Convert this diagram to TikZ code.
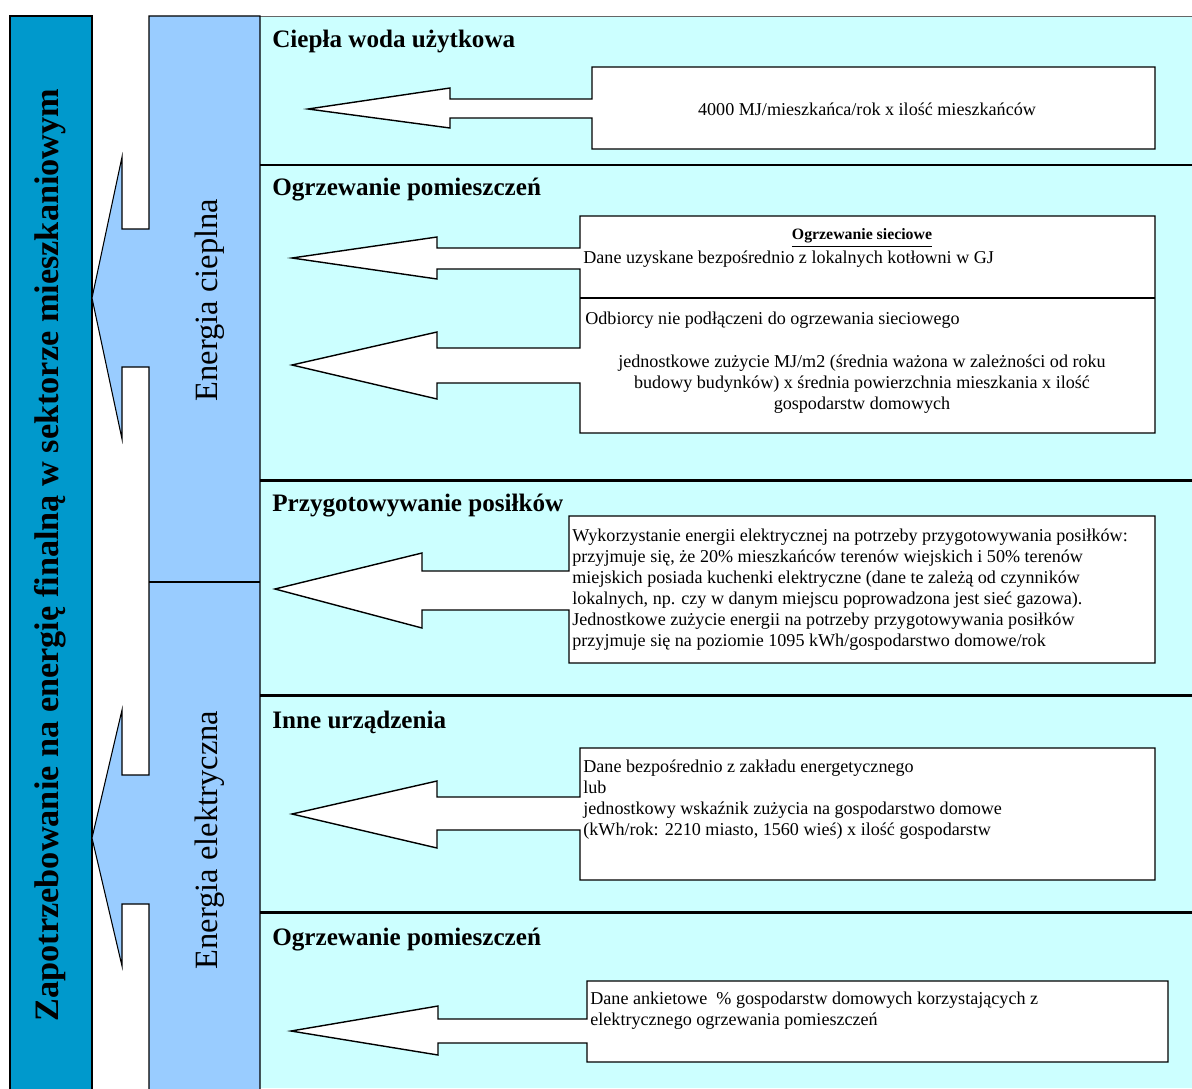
\documentclass[tikz,border=0pt]{standalone}
\usepackage{fontspec}
\setmainfont{Liberation Serif}
\definecolor{darkblue}{HTML}{0099CC}
\definecolor{lightblue}{HTML}{99CCFF}
\definecolor{cyanbg}{HTML}{CCFFFF}
\begin{document}
\begin{tikzpicture}[x=0.02cm,y=-0.02cm,
  thinline/.style={draw=black,line width=0.6pt},
  divider/.style={draw=black,line width=1.7pt},
  arrowbox/.style={fill=white,draw=black,line width=0.8pt,line join=miter},
  head/.style={font=\fontsize{14.3}{16}\selectfont\bfseries,anchor=west,inner sep=0pt},
  body/.style={font=\fontsize{10.3}{11.9}\selectfont,align=left,anchor=north west,inner sep=0pt},
  bodyc/.style={font=\fontsize{10.3}{11.9}\selectfont,align=center,inner sep=0pt},
  sidelabel/.style={font=\fontsize{18.5}{21}\selectfont,rotate=90,inner sep=0pt},
  title/.style={font=\fontsize{19.5}{24}\selectfont\bfseries,rotate=90,inner sep=0pt}]
\useasboundingbox (0,0) rectangle (1192,1088);
% backgrounds
\fill[cyanbg] (260,16) rectangle (1192,1088);
\draw[line width=0.5pt,black!60] (260,16) -- (1192,16);
\draw[thinline,fill=darkblue] (10,16) rectangle (92,1095);
% light blue column with the two block arrows
\draw[thinline,fill=lightblue,line join=miter]
  (149,16) -- (260,16) -- (260,1095) -- (149,1095) -- (149,904) -- (122,904) -- (122,966)
  -- (92,838) -- (122,710) -- (122,775) -- (149,775) -- (149,367) -- (122,367) -- (122,439)
  -- (92,298) -- (122,157) -- (122,229) -- (149,229) -- cycle;
\draw[thinline] (149,582) -- (260,582);
% section dividers
\draw[divider] (260,165) -- (1192,165);
\draw[divider] (260,480) -- (1192,480);
\draw[divider] (260,695) -- (1192,695);
\draw[divider] (260,912) -- (1192,912);
% box arrows
\draw[arrowbox] (592,67) -- (1155,67) -- (1155,149) -- (592,149) -- (592,118) -- (450,118)
  -- (450,128) -- (308,109) -- (450,88) -- (450,99) -- (592,99) -- cycle;
\draw[arrowbox] (580,216) -- (1155,216) -- (1155,433) -- (580,433) -- (580,383) -- (437,383)
  -- (437,399) -- (292,365) -- (437,332) -- (437,348) -- (580,348) -- (580,269) -- (437,269)
  -- (437,279) -- (292,258) -- (437,237) -- (437,248) -- (580,248) -- cycle;
\draw[thinline] (580,298) -- (1155,298);
\draw[arrowbox] (569,516) -- (1155,516) -- (1155,663) -- (569,663) -- (569,610) -- (422,610)
  -- (422,628) -- (275,589) -- (422,553) -- (422,571) -- (569,571) -- cycle;
\draw[arrowbox] (580,748) -- (1155,748) -- (1155,880) -- (580,880) -- (580,830) -- (437,830)
  -- (437,848) -- (292,814) -- (437,781) -- (437,797) -- (580,797) -- cycle;
\draw[arrowbox] (587,981) -- (1168,981) -- (1168,1062) -- (587,1062) -- (587,1043) -- (438,1043)
  -- (438,1055) -- (291,1031) -- (438,1006) -- (438,1019) -- (587,1019) -- cycle;
% vertical labels
\node[title] (ttl) at (50,555) {Zapotrzebowanie na energię finalną w sektorze mieszkaniowym};
\node[sidelabel] (ec) at (210,300) {Energia cieplna};
\node[sidelabel] (ee) at (210,840) {Energia elektryczna};
% headings
\node[head] (h1) at (272,41) {Ciepła woda użytkowa};
\node[head] (h2) at (272,190) {Ogrzewanie pomieszczeń};
\node[head] (h3) at (272,506) {Przygotowywanie posiłków};
\node[head] (h4) at (272,722) {Inne urządzenia};
\node[head] (h5) at (272,940) {Ogrzewanie pomieszczeń};
% texts
\node[bodyc] (t1) at (867,109) {4000 MJ/mieszkańca/rok x ilość mieszkańców};
\node[font=\fontsize{9}{10}\selectfont\bfseries,inner sep=0pt] (t2a) at (862,238) {\underline{Ogrzewanie sieciowe}};
\node[body,anchor=west] (t2b) at (583,259) {Dane uzyskane bezpośrednio z lokalnych kotłowni w GJ};
\node[body,anchor=west] (t2c) at (585,320) {Odbiorcy nie podłączeni do ogrzewania sieciowego};
\node[bodyc] (t2d) at (862,384) {jednostkowe zużycie MJ/m2 (średnia ważona w zależności od roku\\budowy budynków) x średnia powierzchnia mieszkania x ilość\\gospodarstw domowych};
\node[body] (t3) at (572,529) {Wykorzystanie energii elektrycznej na potrzeby przygotowywania posiłków:\\przyjmuje się, że 20\% mieszkańców terenów wiejskich i 50\% terenów\\miejskich posiada kuchenki elektryczne (dane te zależą od czynników\\lokalnych, np. czy w danym miejscu poprowadzona jest sieć gazowa).\\Jednostkowe zużycie energii na potrzeby przygotowywania posiłków\\przyjmuje się na poziomie 1095 kWh/gospodarstwo domowe/rok};
\node[body] (t4) at (583,760) {Dane bezpośrednio z zakładu energetycznego\\lub\\jednostkowy wskaźnik zużycia na gospodarstwo domowe\\(kWh/rok: 2210 miasto, 1560 wieś) x ilość gospodarstw};
\node[body] (t5) at (590,992) {Dane ankietowe \ \% gospodarstw domowych korzystających z\\elektrycznego ogrzewania pomieszczeń};
\end{tikzpicture}
\end{document}
